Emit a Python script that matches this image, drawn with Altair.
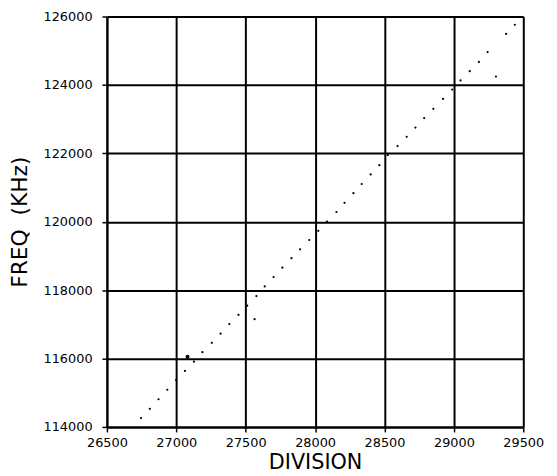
import altair as alt
import pandas as pd

division = [26746, 26809, 26872, 26935, 26999, 27062, 27127, 27188, 27256, 27319,
            27382, 27448, 27511, 27577, 27637, 27701, 27764, 27830, 27892, 27958,
            28023, 28086, 28154, 28212, 28276, 28336, 28400, 28463, 28524, 28594,
            28660, 28723, 28786, 28852, 28922, 28988, 29048, 29114, 29180, 29243,
            29303, 29376, 29439, 27564]
freq = [114260, 114529, 114810, 115087, 115368, 115637, 115909, 116186, 116458, 116727,
        117008, 117277, 117546, 117826, 118107, 118384, 118656, 118934, 119194, 119466,
        119735, 120004, 120284, 120553, 120834, 121103, 121383, 121652, 121947, 122213,
        122482, 122751, 123031, 123301, 123590, 123862, 124131, 124400, 124671, 124961,
        124246, 125490, 125759, 117152]

big_division = [27081]
big_freq = [116053]

x_ticks = [26500, 27000, 27500, 28000, 28500, 29000, 29500]
y_ticks = [114000, 116000, 118000, 120000, 122000, 124000, 126000]

df = pd.DataFrame({"DIVISION": division, "FREQ": freq})
df_big = pd.DataFrame({"DIVISION": big_division, "FREQ": big_freq})

FONT = "DejaVu Sans"

x_enc = alt.X("DIVISION:Q",
              scale=alt.Scale(domain=[26500, 29500], nice=False, zero=False),
              axis=alt.Axis(values=x_ticks, format="d", title="DIVISION",
                            grid=True, gridColor="black", gridWidth=2, gridOpacity=1,
                            domainColor="black", domainWidth=2,
                            tickColor="black", tickSize=5, tickWidth=1.5,
                            labelPadding=5, labelFont=FONT, labelFontSize=13,
                            labelColor="black", titleFont=FONT, titleFontSize=21,
                            titleFontWeight="normal", titleColor="black",
                            titlePadding=2, labelFlush=False))
y_enc = alt.Y("FREQ:Q",
              scale=alt.Scale(domain=[114000, 126000], nice=False, zero=False),
              axis=alt.Axis(values=y_ticks, format="d", title="FREQ\u00a0\u00a0(KHz)",
                            grid=True, gridColor="black", gridWidth=2, gridOpacity=1,
                            domainColor="black", domainWidth=2,
                            tickColor="black", tickSize=5, tickWidth=1.5,
                            labelPadding=10, labelFont=FONT, labelFontSize=13,
                            labelColor="black", titleFont=FONT, titleFontSize=22,
                            titleFontWeight="normal", titleColor="black",
                            titlePadding=12, labelFlush=False))

pts = alt.Chart(df).mark_circle(color="black", size=5, opacity=1).encode(x=x_enc, y=y_enc)
big = alt.Chart(df_big).mark_circle(color="black", size=16, opacity=1).encode(
    x="DIVISION:Q", y="FREQ:Q")

chart = (pts + big).properties(
    width=421, height=415,
    padding={"left": 0, "top": 0, "right": 5, "bottom": 0},
).configure_view(stroke="black", strokeWidth=2).configure(background="white")

chart.save("out.html", embed_options={"renderer": "svg", "actions": False})
